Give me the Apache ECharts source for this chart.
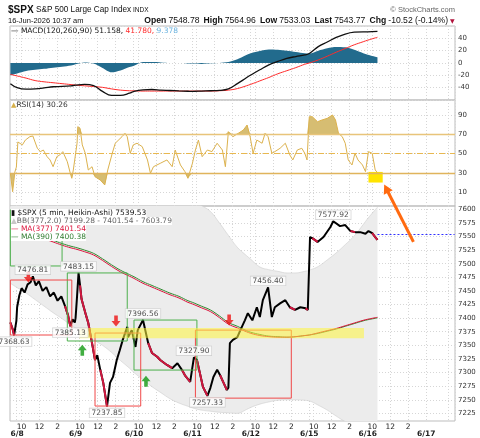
<!DOCTYPE html>
<html>
<head>
<meta charset="utf-8">
<script src="https://cdn.jsdelivr.net/npm/echarts@6/dist/echarts.min.js"></script>
<style>
html, body { margin: 0; padding: 0; background: #fff; }
#chart { width: 480px; height: 438px; }
</style>
</head>
<body>
<div id="chart"></div>
<script>
// sessions shown on the x axis (5 minute bars)
const sessions = [
  ['6/5', '15:15', '15:55'],
  ['6/8', '09:30', '15:55'], ['6/9', '09:30', '15:55'], ['6/10', '09:30', '15:55'],
  ['6/11', '09:30', '15:55'], ['6/12', '09:30', '15:55'], ['6/15', '09:30', '15:55'],
  ['6/16', '09:30', '15:55'], ['6/17', '09:30', '12:40']
]

// indicator samples: last bar of 6/5, hourly on full days, then 6/16
const fullDays = ['6/8', '6/9', '6/10', '6/11', '6/12', '6/15']
const hourly = ['09:30', '10:30', '11:30', '12:30', '13:30', '14:30', '15:30']
const lastTimes = ['6/16 09:30', '6/16 10:35']

const macdLine = [-33.5,
  -40, -42.5, -42, -40.5, -38.5, -38, -37,
  -36, -34.8, -36.5, -46, -52.5, -52.5, -49,
  -46, -43.5, -43, -44, -44.6, -45.3, -45.8,
  -46, -45.5, -45, -44.5, -42, -33.5, -24,
  -19.5, -11, -3, 2.5, 7.5, 10.5, 13,
  15.5, 26.5, 34, 41.5, 47, 50, 50.5,
  50.5, 51.16]
const signalLine = [-18.5,
  -21, -24.5, -28.5, -30.5, -32, -33.5, -35,
  -35.8, -37, -38.2, -39.5, -42, -44, -45,
  -45.2, -45.5, -45.5, -45.5, -45.5, -45.5, -45.5,
  -45.5, -45.5, -45.5, -45, -44, -41.5, -37,
  -34.5, -29, -23.5, -17.5, -12.5, -7.5, -2,
  0, 5, 11, 17.5, 23.5, 29.5, 34.5,
  37, 41.78]
const histVals = [-20,
  -17, -13, -11, -9.5, -7.5, -6, -4,
  -2, 1, -1, -8, -15, -12, -6.5,
  -4.5, 1.5, 1.5, 1, 0, 0, -0.8,
  -1, -1.5, -0.5, 0, 1.5, 6, 13,
  16, 19.5, 22, 21.5, 20, 18, 16,
  15.5, 20, 24, 26, 25.5, 21.5, 16,
  13.5, 9.38]
const ma390 = [7580,
  7573, 7565, 7557, 7549, 7543, 7537, 7532,
  7530, 7525, 7519, 7509, 7498, 7488, 7480,
  7476, 7467, 7460, 7453, 7446, 7440, 7432,
  7429, 7422, 7415, 7404, 7392, 7385, 7377,
  7374, 7370, 7367, 7366, 7365, 7366, 7368,
  7369, 7372, 7376, 7380, 7385, 7390, 7395,
  7397, 7400.38]
const ma377 = [7578,
  7571, 7562, 7554, 7546, 7540, 7534, 7529,
  7527, 7522, 7516, 7506, 7495, 7485, 7477,
  7473, 7464, 7457, 7450, 7443, 7437, 7429,
  7426, 7419, 7412, 7401, 7389, 7382, 7375,
  7372, 7368, 7366, 7365, 7365, 7366, 7368,
  7369, 7373, 7377, 7381, 7386, 7391, 7396,
  7398, 7401.54]
const bbUpper = [7696,
  7690, 7684, 7680, 7672, 7670, 7668, 7668,
  7672, 7676, 7676, 7670, 7656, 7650, 7648,
  7650, 7647, 7645, 7641, 7636, 7632, 7626,
  7617, 7607, 7596, 7575, 7552, 7530, 7515,
  7508, 7494, 7489, 7486, 7483, 7483, 7486,
  7488, 7495, 7507, 7520, 7535, 7551, 7572,
  7583, 7603.79]
const bbLower = [7464,
  7456, 7446, 7434, 7422, 7410, 7399, 7387,
  7382, 7371, 7360, 7350, 7337, 7322, 7308,
  7300, 7287, 7274, 7263, 7252, 7244, 7238,
  7235, 7231, 7229, 7227, 7226, 7225, 7232,
  7236, 7242, 7246, 7249, 7250, 7250, 7249,
  7248, 7240, 7231, 7220, 7210, 7204, 7201,
  7200, 7199.28]

// heikin-ashi closes
const priceBars = [
  ['6/5 15:15', 7392], ['6/5 15:30', 7380], ['6/5 15:40', 7368.63], ['6/5 15:55', 7395],
  ['6/8 09:30', 7420], ['6/8 09:45', 7442], ['6/8 10:00', 7455], ['6/8 10:20', 7447], ['6/8 10:40', 7462],
  ['6/8 11:00', 7466], ['6/8 11:15', 7476.81], ['6/8 11:35', 7460], ['6/8 11:55', 7468], ['6/8 12:20', 7450],
  ['6/8 12:45', 7457], ['6/8 13:10', 7440], ['6/8 13:35', 7447], ['6/8 14:00', 7432], ['6/8 14:25', 7440],
  ['6/8 14:50', 7422], ['6/8 15:10', 7405], ['6/8 15:25', 7385.13], ['6/8 15:40', 7398], ['6/8 15:55', 7392],
  ['6/9 09:30', 7400], ['6/9 09:40', 7440], ['6/9 09:50', 7483.15], ['6/9 10:00', 7460], ['6/9 10:10', 7435],
  ['6/9 10:25', 7420], ['6/9 10:40', 7405], ['6/9 10:55', 7391], ['6/9 11:20', 7354], ['6/9 11:40', 7323],
  ['6/9 11:55', 7332], ['6/9 12:15', 7305], ['6/9 12:35', 7281], ['6/9 13:00', 7237.85], ['6/9 13:20', 7281],
  ['6/9 13:40', 7292], ['6/9 14:05', 7323], ['6/9 14:25', 7341], ['6/9 14:45', 7360], ['6/9 15:15', 7384],
  ['6/9 15:20', 7365], ['6/9 15:45', 7378],
  ['6/10 09:40', 7347], ['6/10 09:55', 7378], ['6/10 10:30', 7396.56], ['6/10 11:05', 7354], ['6/10 11:30', 7336],
  ['6/10 12:05', 7329], ['6/10 12:25', 7323], ['6/10 13:10', 7314], ['6/10 13:45', 7308], ['6/10 14:20', 7317],
  ['6/10 14:50', 7305], ['6/10 15:10', 7295], ['6/10 15:45', 7283],
  ['6/11 09:40', 7327.9], ['6/11 10:00', 7323], ['6/11 10:20', 7299], ['6/11 10:40', 7274], ['6/11 11:10', 7257.33],
  ['6/11 11:30', 7272], ['6/11 11:50', 7292], ['6/11 12:15', 7305], ['6/11 12:35', 7295], ['6/11 12:55', 7283],
  ['6/11 13:20', 7268], ['6/11 13:30', 7272], ['6/11 13:40', 7354], ['6/11 14:00', 7360], ['6/11 14:30', 7365],
  ['6/11 14:50', 7378], ['6/11 15:20', 7396], ['6/11 15:40', 7409],
  ['6/12 09:40', 7396], ['6/12 10:10', 7420], ['6/12 10:30', 7402], ['6/12 10:50', 7433], ['6/12 11:25', 7456.4],
  ['6/12 11:50', 7402], ['6/12 12:10', 7420], ['6/12 12:45', 7427], ['6/12 13:20', 7433], ['6/12 13:50', 7420],
  ['6/12 14:25', 7415], ['6/12 15:00', 7420], ['6/12 15:35', 7418], ['6/12 15:50', 7415],
  ['6/15 09:35', 7549], ['6/15 09:50', 7547], ['6/15 10:25', 7540], ['6/15 11:05', 7549], ['6/15 11:50', 7567],
  ['6/15 12:10', 7577.92], ['6/15 12:55', 7569], ['6/15 13:30', 7571], ['6/15 14:05', 7560], ['6/15 14:35', 7558],
  ['6/15 15:10', 7558], ['6/15 15:45', 7555],
  ['6/16 09:35', 7560], ['6/16 10:00', 7556], ['6/16 10:20', 7549], ['6/16 10:35', 7543.77]
]

const rsiVals = [
  ['6/5 15:15', 29.6], ['6/5 15:30', 10.5], ['6/5 15:45', 31], ['6/5 15:55', 36],
  ['6/8 09:35', 62], ['6/8 10:05', 59], ['6/8 10:25', 64], ['6/8 10:55', 67.5], ['6/8 11:15', 68.2],
  ['6/8 11:45', 55.5], ['6/8 12:05', 52], ['6/8 12:25', 53.7], ['6/8 12:50', 46.8], ['6/8 13:10', 43.4],
  ['6/8 13:30', 36.4], ['6/8 13:55', 46.8], ['6/8 14:15', 48.6], ['6/8 14:35', 52], ['6/8 15:05', 41.6],
  ['6/8 15:25', 29.6], ['6/8 15:35', 24.4], ['6/8 15:45', 33],
  ['6/9 09:40', 60.7], ['6/9 09:45', 77.9], ['6/9 10:00', 76.2], ['6/9 10:15', 59], ['6/9 10:35', 50.3],
  ['6/9 10:55', 33], ['6/9 11:20', 36.4], ['6/9 11:40', 26], ['6/9 12:15', 22.6], ['6/9 12:45', 17.5],
  ['6/9 13:05', 33], ['6/9 13:35', 50.3], ['6/9 13:55', 60.7], ['6/9 14:40', 67.5], ['6/9 15:00', 70.9],
  ['6/9 15:15', 67.5], ['6/9 15:35', 50.3], ['6/9 15:55', 59],
  ['6/10 09:50', 60.7], ['6/10 10:25', 57.2], ['6/10 11:00', 43.4], ['6/10 11:20', 29.6], ['6/10 11:40', 36.4],
  ['6/10 12:25', 39.9], ['6/10 13:10', 43.4], ['6/10 13:45', 36.4], ['6/10 14:05', 53.7], ['6/10 14:40', 38.2],
  ['6/10 15:10', 31.3], ['6/10 15:30', 24.4],
  ['6/11 09:30', 39.9], ['6/11 09:50', 53.7], ['6/11 10:10', 64], ['6/11 10:35', 46.8], ['6/11 11:10', 53.7],
  ['6/11 11:40', 52], ['6/11 12:15', 60.7], ['6/11 12:50', 53.7], ['6/11 13:10', 36.4], ['6/11 13:30', 72.7],
  ['6/11 14:00', 67.5], ['6/11 14:35', 70.9], ['6/11 15:10', 74.4], ['6/11 15:35', 79.6], ['6/11 15:55', 67.5],
  ['6/12 09:45', 50.3], ['6/12 10:10', 64], ['6/12 10:45', 60.7], ['6/12 11:05', 70.9], ['6/12 11:25', 67.5],
  ['6/12 11:50', 50.3], ['6/12 12:10', 52], ['6/12 12:45', 55.5], ['6/12 13:20', 60.7], ['6/12 13:50', 48.6],
  ['6/12 14:10', 43.4], ['6/12 14:40', 53.7], ['6/12 15:10', 55.5], ['6/12 15:30', 50.3], ['6/12 15:45', 43.4],
  ['6/15 09:30', 88.2], ['6/15 09:50', 88.2], ['6/15 10:25', 83], ['6/15 10:55', 84.8], ['6/15 11:30', 86.5],
  ['6/15 12:05', 90], ['6/15 12:25', 84.8], ['6/15 12:45', 70.9], ['6/15 13:10', 67.5], ['6/15 13:30', 60.7],
  ['6/15 13:50', 43.4], ['6/15 14:15', 38.2], ['6/15 14:35', 50.3], ['6/15 14:55', 43.4], ['6/15 15:25', 38.2],
  ['6/15 15:45', 31.3],
  ['6/16 09:35', 52], ['6/16 10:00', 50.3], ['6/16 10:20', 33], ['6/16 10:35', 30.26]
]

// labelled highs / lows
const peakLabels = [
  ['6/8 11:15', 7476.81, 'top'], ['6/9 09:50', 7483.15, 'top'], ['6/5 15:40', 7368.63, 'bottom'],
  ['6/8 15:25', 7385.13, 'bottom'], ['6/9 13:00', 7237.85, 'bottom'], ['6/10 10:30', 7396.56, 'top'],
  ['6/11 09:40', 7327.9, 'top'], ['6/11 11:10', 7257.33, 'bottom'], ['6/12 11:25', 7456.4, 'top'],
  ['6/15 12:10', 7577.92, 'top']
]
// hand drawn marks
const greenBoxes = [
  [['6/5 15:15', 7598.7], ['6/8 14:30', 7495.8]],
  [['6/8 15:05', 7483], ['6/9 15:15', 7358]],
  [['6/10 09:30', 7396.5], ['6/11 10:00', 7304.6]]
]
const redBoxes = [
  [['6/5 15:15', 7470], ['6/8 15:35', 7369]],
  [['6/9 11:40', 7372.6], ['6/10 10:15', 7238.5]],
  [['6/11 09:50', 7378], ['6/12 14:00', 7253]]
]
const bandTimes = ['6/9 09:55', '6/15 15:35']
const bandLow = 7363
const bandHigh = 7382
const downArrows = [['6/8 10:45', 7475.6], ['6/9 14:00', 7394.7], ['6/11 13:35', 7396.5]]
const upArrows = [['6/9 10:15', 7341], ['6/10 10:50', 7284]]
const rsiBox = [['6/16 09:35', 31], ['6/16 11:10', 20]]
const prevClose = 7554.29
const priceTicks = [7225, 7250, 7275, 7300, 7325, 7350, 7375, 7400, 7425, 7450, 7475, 7500, 7525, 7550, 7575, 7600]
const rsiTicks = [10, 30, 50, 70, 90]

function pad(n) { return (n < 10 ? '0' : '') + n }
function toMin(s) { let p = s.split(':'); return +p[0] * 60 + +p[1] }

let cats = []
sessions.forEach(s => {
  for (let m = toMin(s[1]); m <= toMin(s[2]); m += 5) {
    cats.push(s[0] + ' ' + pad(Math.floor(m / 60)) + ':' + pad(m % 60))
  }
})

let indTimes = ['6/5 15:15']
fullDays.forEach(d => hourly.forEach(h => indTimes.push(d + ' ' + h)))
indTimes = indTimes.concat(lastTimes)
const pairs = arr => arr.map((v, i) => [indTimes[i], v])

// red overlay for falling stretches
let downData = []
for (let i = 1; i < priceBars.length; i++) {
  if (priceBars[i][1] < priceBars[i - 1][1]) {
    let last = downData[downData.length - 1]
    if (!last || last[0] !== priceBars[i - 1][0]) downData.push(priceBars[i - 1])
    downData.push(priceBars[i])
  } else {
    downData.push([priceBars[i][0], '-'])
  }
}

// rectangle outlines as closed polylines, separated by gaps
function outline(boxes) {
  let out = []
  boxes.forEach((b, i) => {
    if (i) out.push([b[0][0], '-'])
    let t0 = b[0][0], y0 = b[0][1], t1 = b[1][0], y1 = b[1][1]
    out.push([t0, y0], [t1, y0], [t1, y1], [t0, y1], [t0, y0])
  })
  return out
}

const hourNames = {'10:00': '10', '12:00': '12', '14:00': '2'}
function isDayStart(idx, val) {
  let p = val.split(' ')
  return p[0] !== '6/5' && p[1] === '09:30'
}
function isHour(idx, val) {
  let p = val.split(' ')
  return p[0] !== '6/5' && p[0] !== '6/17' && hourNames[p[1]] !== undefined
}
function showGrid(idx, val) {
  return isDayStart(idx, val) || isHour(idx, val) || val === '6/17 12:00'
}

const font = 'DejaVu Sans'
const gridLine = {show: true, interval: showGrid, lineStyle: {color: '#d6d6d6', type: [1, 2], width: 1}}
const ySplit = {show: true, lineStyle: {color: '#d6d6d6', type: [1, 2], width: 1}}
const yLabel = {fontSize: 7, color: '#333', fontFamily: font, margin: 3, formatter: v => String(v)}

function xAxis(i, labels) {
  let ax = {
    type: 'category', gridIndex: i, data: cats, boundaryGap: true, position: 'bottom',
    axisLine: {show: false}, axisTick: {show: false},
    splitLine: labels === 'date' ? {show: false} : gridLine,
    axisLabel: {show: false}
  }
  if (labels === 'hour') {
    ax.axisLabel = {show: true, interval: isHour, fontSize: 7.5, fontFamily: font, color: '#222', margin: 2,
      formatter: v => hourNames[v.split(' ')[1]]}
  }
  if (labels === 'date') {
    ax.axisLabel = {show: true, interval: isDayStart, showMinLabel: true, fontSize: 7.5, fontWeight: 'bold',
      fontFamily: font, color: '#222', margin: 9, formatter: v => v.split(' ')[0]}
  }
  return ax
}

const chart = echarts.init(document.getElementById('chart'))
const option = {
  animation: false,
  backgroundColor: '#fff',
  grid: [
    {left: 10, right: 25, top: 26, height: 74, show: true, borderColor: '#bdbdbd', borderWidth: 1},
    {left: 10, right: 25, top: 100, height: 106, show: true, borderColor: '#bdbdbd', borderWidth: 1},
    {left: 10, right: 25, top: 206, height: 215, show: true, borderColor: '#bdbdbd', borderWidth: 1}
  ],
  xAxis: [xAxis(0), xAxis(1), xAxis(2, 'hour'), xAxis(2, 'date')],
  yAxis: [
    {type: 'value', gridIndex: 0, position: 'right', min: -60, max: 60, interval: 20,
      axisLabel: Object.assign({}, yLabel, {showMinLabel: false, showMaxLabel: false}),
      axisLine: {show: false}, axisTick: {show: false}, splitLine: ySplit},
    {type: 'value', gridIndex: 1, position: 'right', min: -4.3, max: 105.5,
      axisLabel: Object.assign({}, yLabel, {customValues: rsiTicks}),
      axisLine: {show: false}, axisTick: {show: false, customValues: rsiTicks}, splitLine: ySplit},
    {type: 'value', gridIndex: 2, position: 'right', min: 7211, max: 7606,
      axisLabel: Object.assign({}, yLabel, {customValues: priceTicks}),
      axisLine: {show: false}, axisTick: {show: false, customValues: priceTicks}, splitLine: ySplit}
  ],
  series: [
    // MACD panel
    {type: 'line', xAxisIndex: 0, yAxisIndex: 0, data: pairs(histVals), smooth: 0.3, showSymbol: false,
      lineStyle: {width: 0}, areaStyle: {color: '#226b8d', opacity: 1}},
    {type: 'line', xAxisIndex: 0, yAxisIndex: 0, data: pairs(signalLine), smooth: 0.4, showSymbol: false,
      lineStyle: {color: '#ff2b2b', width: 1}},
    {type: 'line', xAxisIndex: 0, yAxisIndex: 0, data: pairs(macdLine), smooth: 0.4, showSymbol: false,
      lineStyle: {color: '#111', width: 1.3}},
    // RSI panel
    {type: 'line', xAxisIndex: 1, yAxisIndex: 1, showSymbol: false,
      data: rsiVals.map(d => [d[0], Math.max(d[1], 70)]),
      lineStyle: {width: 0}, areaStyle: {origin: 70, color: '#d6bd72', opacity: 1}},
    {type: 'line', xAxisIndex: 1, yAxisIndex: 1, showSymbol: false,
      data: rsiVals.map(d => [d[0], Math.min(d[1], 30)]),
      lineStyle: {width: 0}, areaStyle: {origin: 30, color: '#d6bd72', opacity: 1}},
    {type: 'line', xAxisIndex: 1, yAxisIndex: 1, data: rsiVals, showSymbol: false,
      lineStyle: {color: '#dcb24e', width: 1},
      markLine: {silent: true, symbol: 'none', label: {show: false},
        data: [
          {yAxis: 70, lineStyle: {color: '#e8c47a', type: 'solid', width: 1.3}},
          {yAxis: 50, lineStyle: {color: '#e8b850', type: [6, 2, 1, 2], width: 1}},
          {yAxis: 30, lineStyle: {color: '#e0b45c', type: 'solid', width: 1.3}}
        ]},
      markArea: {silent: true, itemStyle: {color: '#ffe400'}, data: [[{coord: rsiBox[0]}, {coord: rsiBox[1]}]]}},
    // price panel: bollinger band
    {type: 'line', xAxisIndex: 2, yAxisIndex: 2, stack: 'bb', data: pairs(bbLower), smooth: 0.4, showSymbol: false,
      lineStyle: {color: '#cfcfcf', width: 0.6}},
    {type: 'line', xAxisIndex: 2, yAxisIndex: 2, stack: 'bb', smooth: 0.4, showSymbol: false,
      data: bbUpper.map((v, i) => [indTimes[i], v - bbLower[i]]),
      lineStyle: {color: '#cfcfcf', width: 0.6}, areaStyle: {color: '#ececec', opacity: 1}},
    {type: 'line', xAxisIndex: 2, yAxisIndex: 2, data: pairs(ma390), smooth: 0.4, showSymbol: false,
      lineStyle: {color: '#2f8a2f', width: 1}},
    {type: 'line', xAxisIndex: 2, yAxisIndex: 2, data: pairs(ma377), smooth: 0.4, showSymbol: false,
      lineStyle: {color: '#dc143c', width: 1}},
    {type: 'line', xAxisIndex: 2, yAxisIndex: 2, data: priceBars, showSymbol: false,
      lineStyle: {color: '#000', width: 2},
      markLine: {silent: true, symbol: 'none', label: {show: false},
        lineStyle: {color: '#3030ff', type: [2, 2], width: 1},
        data: [[{coord: [priceBars[priceBars.length - 1][0], prevClose]}, {coord: [cats[cats.length - 1], prevClose]}]]}},
    {type: 'line', xAxisIndex: 2, yAxisIndex: 2, data: downData, showSymbol: false, connectNulls: false,
      lineStyle: {color: '#d0173f', width: 2}},
    // annotation boxes
    {type: 'line', xAxisIndex: 2, yAxisIndex: 2, z: 5, showSymbol: false, connectNulls: false,
      data: outline(greenBoxes), lineStyle: {color: '#4cb04c', width: 1}},
    {type: 'line', xAxisIndex: 2, yAxisIndex: 2, z: 5, showSymbol: false, connectNulls: false,
      data: outline(redBoxes), lineStyle: {color: '#f04848', width: 1}},
    // yellow support band over the lines and boxes (stacked pair)
    {type: 'line', xAxisIndex: 2, yAxisIndex: 2, stack: 'band', z: 6, showSymbol: false,
      data: bandTimes.map(t => [t, bandLow]), lineStyle: {width: 0}},
    {type: 'line', xAxisIndex: 2, yAxisIndex: 2, stack: 'band', z: 6, showSymbol: false,
      data: bandTimes.map(t => [t, bandHigh - bandLow]), lineStyle: {width: 0},
      areaStyle: {color: 'rgb(255,245,60)', opacity: 0.55}},
    {type: 'scatter', xAxisIndex: 2, yAxisIndex: 2, data: downArrows, z: 7,
      symbol: 'path://M3,0 H7 V5 H10 L5,10 L0,5 H3 Z', symbolSize: [9, 11], itemStyle: {color: '#ee1111'}},
    {type: 'scatter', xAxisIndex: 2, yAxisIndex: 2, data: upArrows, z: 7,
      symbol: 'path://M5,0 L10,5 H7 V10 H3 V5 H0 Z', symbolSize: [9, 11], itemStyle: {color: '#129a12'}},
    {type: 'scatter', xAxisIndex: 2, yAxisIndex: 2, z: 8, symbolSize: 0,
      data: peakLabels.map(p => ({value: [p[0], p[1]], label: {position: p[2]}})),
      label: {show: true, distance: 2, formatter: p => p.value[1].toFixed(2), fontSize: 7.5, fontFamily: font,
        color: '#222', backgroundColor: '#fff', borderColor: '#c4c4c4', borderWidth: 0.6, padding: [1, 2, 0, 2]}}
  ]
}
chart.setOption(option)

// text blocks and the hand drawn orange arrow
const tail = chart.convertToPixel({xAxisIndex: 2, yAxisIndex: 2}, ['6/16 14:35', 7540])
const head = chart.convertToPixel({xAxisIndex: 1, yAxisIndex: 1}, ['6/16 11:20', 18])
let dx = head[0] - tail[0], dy = head[1] - tail[1]
let len = Math.sqrt(dx * dx + dy * dy)
dx /= len; dy /= len
const hp = [
  head,
  [head[0] - dx * 9 + dy * 5, head[1] - dy * 9 - dx * 5],
  [head[0] - dx * 9 - dy * 5, head[1] - dy * 9 + dx * 5]
]

function txt(x, y, text, font, fill, align, extra) {
  return {type: 'text', z: 100, style: Object.assign({x: x, y: y, text: text, font: font, fill: fill,
    align: align || 'left', textAlign: align || 'left', verticalAlign: 'middle', textVerticalAlign: 'middle'}, extra || {})}
}
const lf = '7.5px "DejaVu Sans"'
const hf = '7.5px "Liberation Sans"'
const hb = {fontWeight: 'bold', fontSize: 8.6, fontFamily: 'Liberation Sans', fill: '#111'}
chart.setOption({
  graphic: [
    txt(8, 10, '$SPX', 'bold 10px "Liberation Sans"', '#111'),
    txt(36, 10, 'S&P 500 Large Cap Index', '8.2px "Liberation Sans"', '#111'),
    txt(133, 10, 'INDX', '6.5px "Liberation Sans"', '#111'),
    txt(455, 10, '© StockCharts.com', hf, '#666', 'right'),
    txt(8, 20.5, '16-Jun-2026 10:37 am', hf, '#111'),
    txt(448, 20.5, '{b|Open} {n|7548.78}  {b|High} {n|7564.96}  {b|Low} {n|7533.03}  {b|Last} {n|7543.77}  {b|Chg} {n|-10.52 (-0.14%)}',
      hf, '#111', 'right', {rich: {b: hb, n: {fontSize: 8.6, fontFamily: 'Liberation Sans', fill: '#111'}}}),
    txt(450, 21, '▼', '6px "DejaVu Sans"', '#b0103a'),
    txt(11, 31, '{k|— MACD(120,260,90) 51.158,}{r| 41.780,}{c| 9.378}', lf, '#111', 'left',
      {rich: {k: {fill: '#111', fontSize: 7.5, fontFamily: font}, r: {fill: '#ff2b2b', fontSize: 7.5, fontFamily: font},
        c: {fill: '#6cb4e0', fontSize: 7.5, fontFamily: font}}}),
    txt(11, 105, '{i|▲}{t|RSI(14) 30.26}', lf, '#333', 'left',
      {rich: {i: {fill: '#d6b04a', fontSize: 7, fontFamily: font}, t: {fill: '#333', fontSize: 7.5, fontFamily: font}}}),
    txt(11, 213, '{i|▮}{t| $SPX (5 min, Heikin-Ashi) 7539.53}', lf, '#111', 'left',
      {backgroundColor: '#fff', rich: {i: {fill: '#111', fontSize: 7.5, fontFamily: font}, t: {fill: '#111', fontSize: 7.5, fontFamily: font}}}),
    txt(11, 221, '{i|▲}{t|BB(377,2.0) 7199.28 - 7401.54 - 7603.79}', lf, '#666', 'left',
      {backgroundColor: '#fff', rich: {i: {fill: '#c8c8c8', fontSize: 7.5, fontFamily: font}, t: {fill: '#666', fontSize: 7.5, fontFamily: font}}}),
    txt(11, 229, '— MA(377) 7401.54', lf, '#dc143c', 'left', {backgroundColor: '#fff'}),
    txt(11, 237, '— MA(390) 7400.38', lf, '#2f7d2f', 'left', {backgroundColor: '#fff'}),
    {type: 'line', z: 110, shape: {x1: tail[0], y1: tail[1], x2: head[0] - dx * 7, y2: head[1] - dy * 7},
      style: {stroke: '#ff6a10', lineWidth: 3}},
    {type: 'polygon', z: 110, shape: {points: hp}, style: {fill: '#ff6a10'}}
  ]
})
</script>
</body>
</html>
